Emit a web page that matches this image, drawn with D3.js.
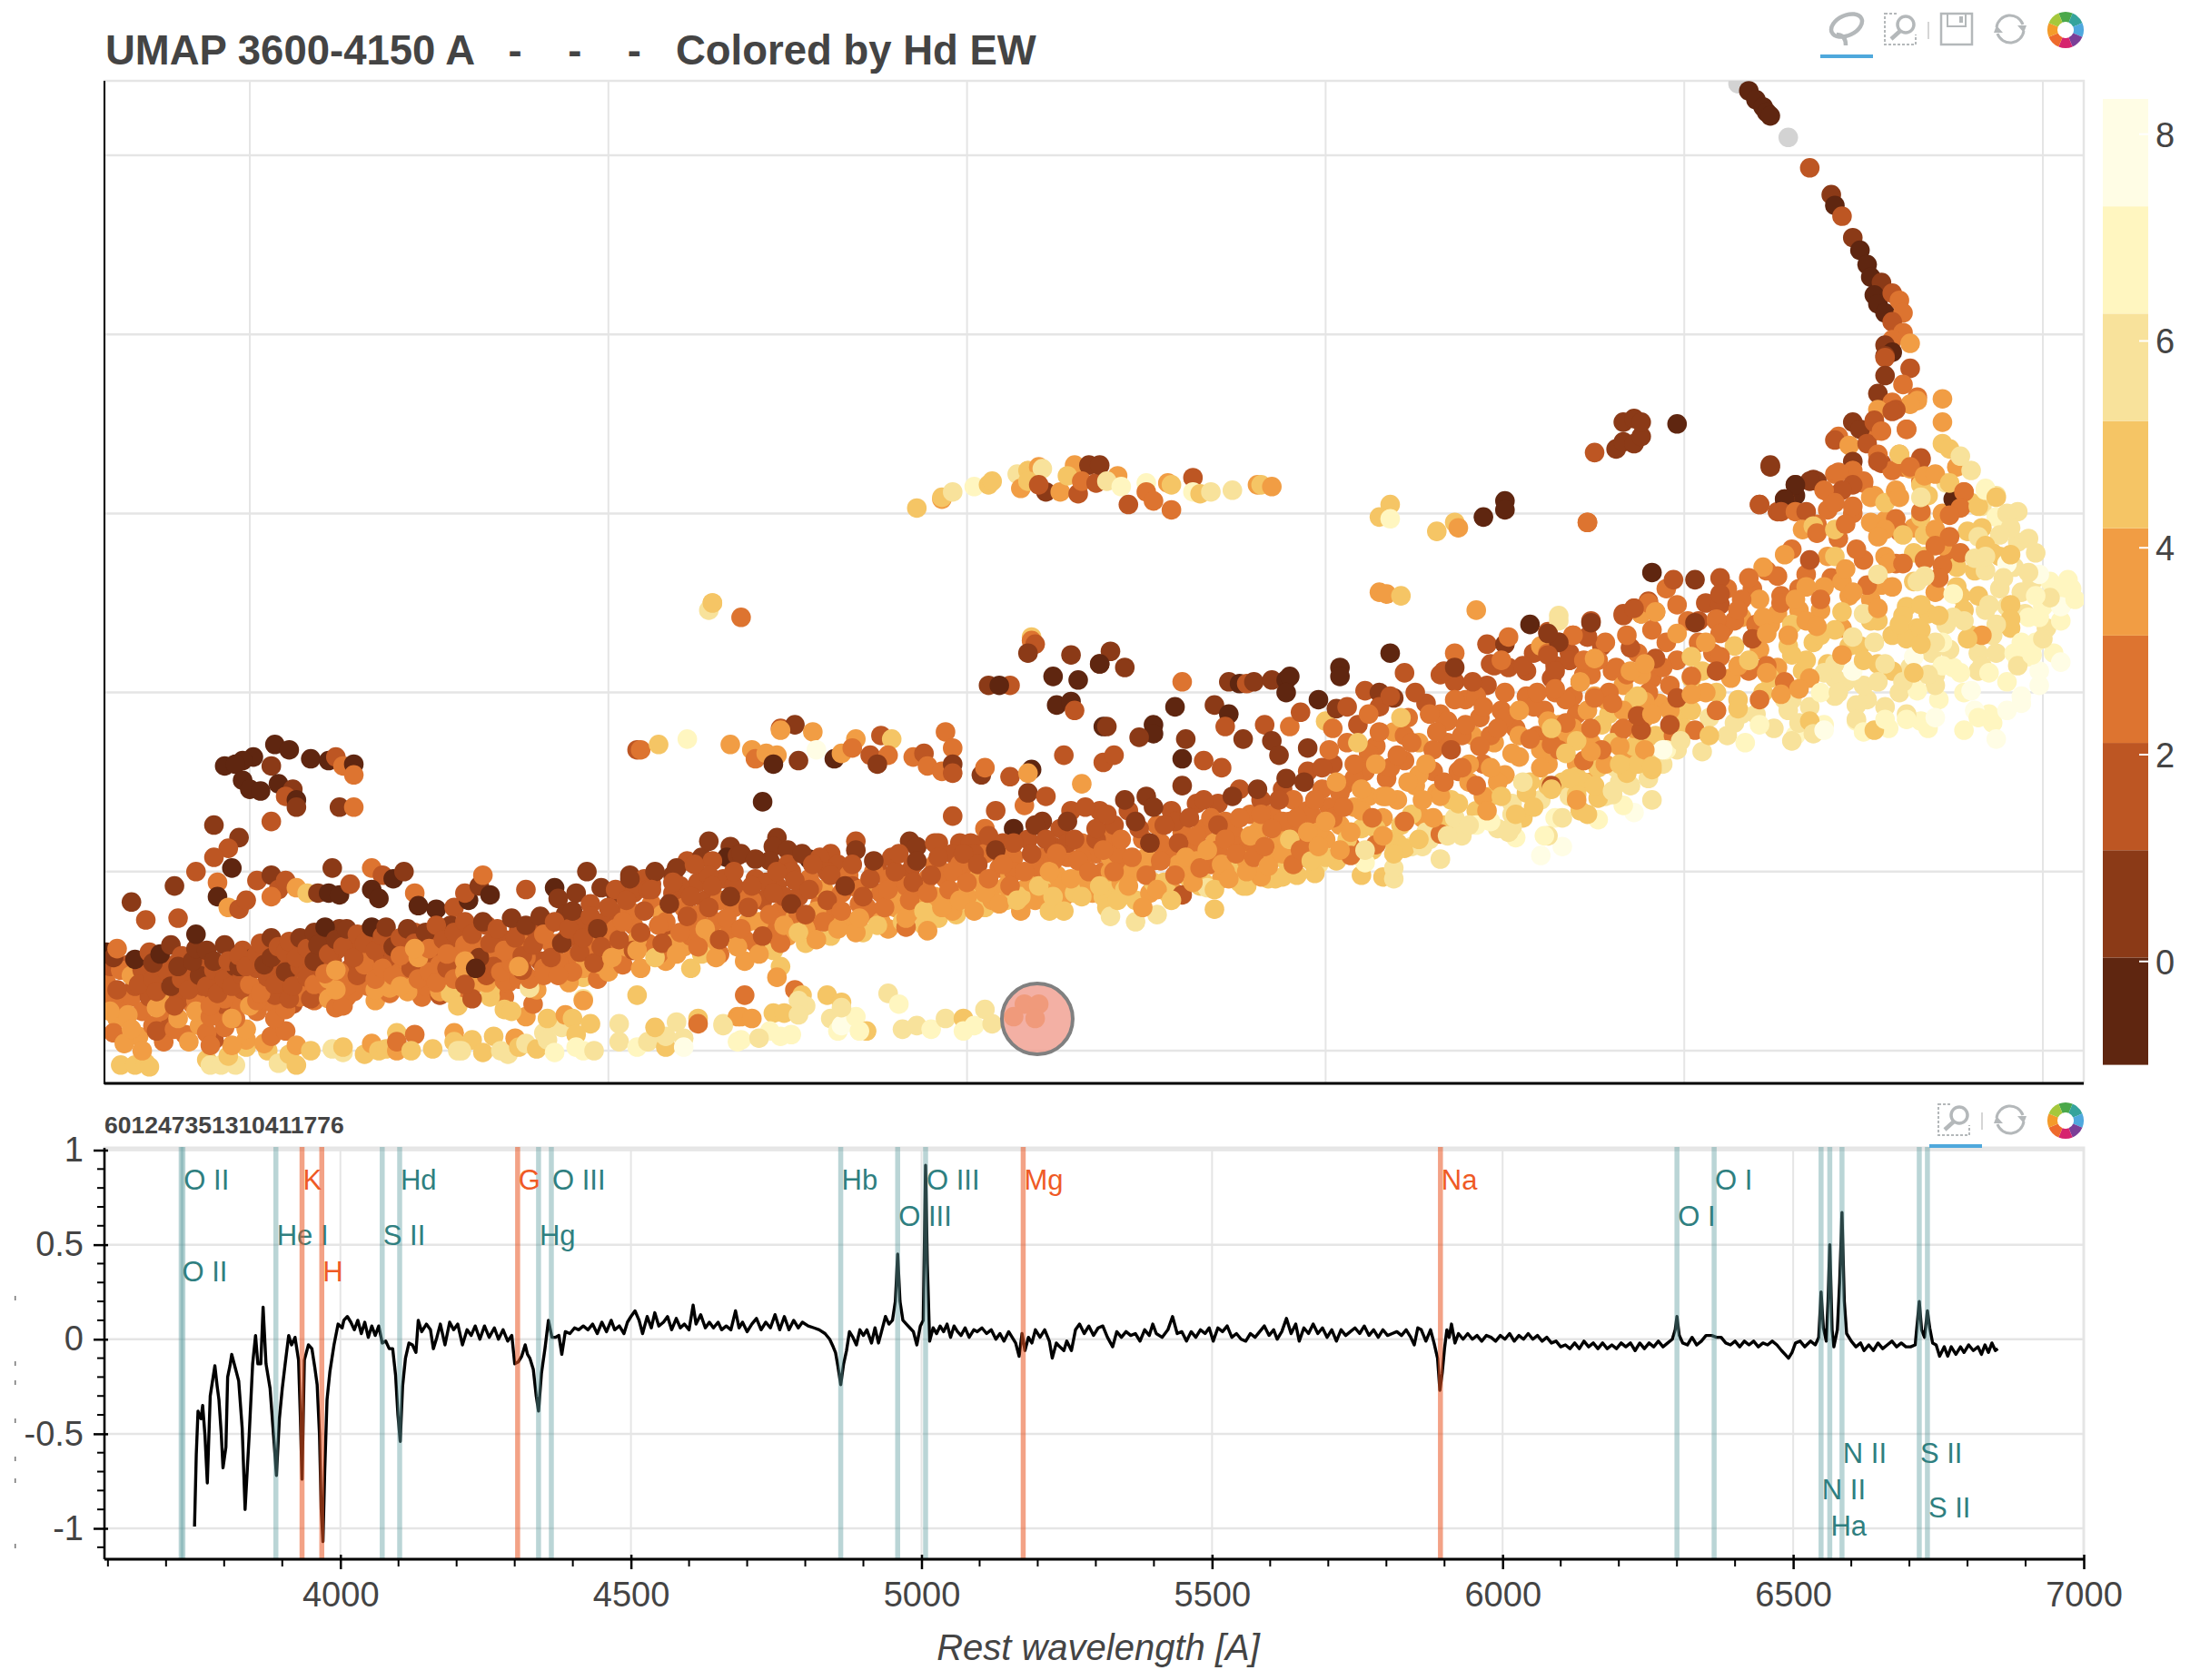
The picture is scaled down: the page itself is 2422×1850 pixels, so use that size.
<!DOCTYPE html>
<html>
<head>
<meta charset="utf-8">
<script src="https://cdn.jsdelivr.net/npm/d3@7"></script>
<style>
  html, body { margin: 0; background: #fff; }
  text { font-family: "Liberation Sans", Arial, sans-serif; white-space: pre; }
</style>
</head>
<body>
<svg id="chart" width="2422" height="1850"></svg>
<script>
// EW colour bins, darkest first (one bin per integer EW value)
const ewColors = ['#5f2610', '#8b3a17', '#bd5623', '#dd7430', '#f19d44', '#f5c565', '#f8e29b', '#fff6c0', '#fffde5'];
const ewTicks = [0, 2, 4, 6, 8];

// UMAP points, flat triples x, y, ew. Units: 100 = one grid cell
const missingEw = [415,540, 429,510];
const arcTop = [418,536,0,420,531,0,422,527,0,423,524,0,424,522,0,435,493,2,441,478,1,442,472,0,444,466,2,447,454,1,449,447,0,451,439,0,452,432,0,455,429,1,453,422,0,454,417,0,456,412,0,458,423,2,460,419,3,461,412,3,458,407,2,461,401,3,458,397,3,463,395,4,456,394,1,458,390,0,456,388,1,456,387,2,463,381,2,456,377,1,461,372,3,454,367,1];
const patchNorthEast = [375,334,2,381,336,1,383,340,1,386,339,1,388,343,1,383,351,1,386,353,1,388,351,1,398,350,0,424,326,1,373,295,3];
const patchUpperLeft = [7,171,0,11,168,0,1,164,0,-2,162,0,-7,159,0,-4,160,0,6,159,1,17,163,0,22,162,0,24,164,2,26,159,3,29,160,0,29,154,3,-2,151,0,0,146,0,3,145,0,8,149,0,12,146,1,10,142,2,13,140,0,13,136,1,25,136,1,29,136,3,6,128,2,-10,126,1,-3,119,1,-6,113,2,-10,108,2,-5,102,0,-15,100,2,-9,94,3,-21,92,1,-33,83,1,-29,73,2,-20,74,2,-9,86,0,-6,80,4,-3,79,2,-1,84,2,2,95,2,6,98,1,8,90,2,10,95,2,6,86,3,13,91,4,16,88,5,19,88,1,22,88,0,25,87,0,23,102,1,34,102,3,37,98,2,40,96,0,43,100,1,28,93,2,34,90,0,36,85,0,46,88,3,47,81,0,52,79,0,57,80,2,61,84,0,60,88,2,64,92,1,67,87,0,65,98,3,94,100,1,85,91,0,77,90,2,91,88,1,86,85,1,98,91,1,106,98,1,102,88,1,107,90,1,112,93,2,118,98,1,122,106,2,126,108,1,128,117,1,134,114,1,133,108,0,136,109,1,147,119,1,146,114,1,150,112,1,156,107,0,162,110,2,169,117,2,184,117,1,192,116,2,198,116,2,203,115,2,143,139,0,196,131,2,208,134,2,205,124,3,213,124,0,216,137,3,217,144,1,222,142,2];
const patchMiddle = [108,168,2,109,168,3,114,171,5,122,174,7,134,171,4,140,168,4,141,163,3,144,166,4,147,165,4,146,160,0,153,162,1,148,180,2,152,182,1,148,179,4,157,178,4,158,168,8,163,163,0,165,166,4,169,174,4,168,169,3,173,165,2,176,176,2,179,174,5,178,165,3,175,160,1,185,164,3,188,166,2,194,178,3,196,169,3,189,159,3,193,156,3,196,160,1,196,155,2,204,154,1,205,158,3,212,153,2,218,157,0,217,155,4,227,165,2,232,149,4,238,161,2,129,250,5,128,246,6,137,242,3,218,231,5,218,229,3,219,227,2,217,222,1,229,221,1,237,216,1,224,209,0,231,207,0,206,204,1,212,204,2,209,204,0,225,193,0,229,195,0,230,190,2,238,181,0,240,223,1,244,214,1,237,216,0,260,206,3,273,206,1,276,205,0,278,205,2,280,206,1,285,207,1,289,207,0,290,209,0,289,200,0,298,196,0,304,214,0,304,209,0,318,222,0,258,192,0,269,193,1,273,188,0,239,181,1,252,182,0,252,177,0,248,175,1,261,174,1,241,165,2,260,163,0,266,162,2,271,158,2,272,181,2,277,174,1,283,182,2,285,173,1,290,181,3,293,189,2,287,165,1,295,169,1,300,184,5,303,191,1,311,201,2,315,200,1,319,197,1];
const arcUpper = [186,303,5,193,308,4,193,309,5,196,312,6,202,315,7,206,316,5,207,318,5,214,322,6,217,324,5,220,326,4,221,325,6,215,314,4,217,318,5,222,312,1,220,316,2,226,312,4,231,311,2,230,327,4,234,327,1,228,321,5,232,318,3,236,317,2,237,327,1,242,321,4,239,318,6,243,315,7,250,317,7,250,312,3,252,307,3,245,305,2,257,302,3,256,317,4,257,316,5,263,320,2,263,312,7,265,311,5,268,312,6,274,313,6,281,316,4,282,316,5,285,315,4,318,305,5,315,298,5,318,297,7,331,290,5,336,295,5,337,292,4,344,298,0,350,307,0,350,302,0,373,295,3,129,250,5,315,256,4,317,255,4,321,254,5,342,246,4];
const stripLower = [-36,-8,5,-32,-8,5,-29,-7,5,-28,-9,5,-12,-5,5,-11,-8,6,-8,-8,6,-4,-8,6,-6,-3,5,-1,2,5,-1,6,4,-5,3,4,5,0,5,4,4,4,6,8,3,10,11,3,8,-7,6,11,-2,5,13,-8,5,13,3,4,17,0,5,23,1,6,26,-1,6,26,2,5,32,-2,5,34,4,4,36,0,5,38,1,5,41,10,5,41,0,4,46,9,3,41,5,3,45,0,5,51,1,5,57,10,4,57,5,5,62,6,5,58,0,6,59,0,6,65,-1,5,68,8,5,70,0,6,72,-2,6,74,7,4,75,2,5,77,4,6,80,1,5,82,10,6,83,6,6,85,-1,7,87,13,6,83,18,5,88,20,4,90,18,5,95,15,5,91,9,5,91,2,7,93,0,7,96,0,6,103,5,6,103,15,6,108,2,7,111,5,6,113,7,6,116,2,5,116,8,6,113,13,5,119,16,6,121,7,6,121,2,8,125,18,5,125,15,3,132,15,6,136,5,7,136,19,4,108,31,5,93,29,6,93,28,4,93,41,5,77,19,4,79,26,3,71,30,3,71,23,5,73,22,5,138,31,3,148,47,5,147,41,4,152,34,3,154,31,5,161,31,5,165,27,5,178,32,6,181,26,7,155,25,6,153,28,6,146,21,5,149,21,5,137,19,4,140,18,4,132,14,6,145,11,7,137,6,7,142,7,6,148,8,7,151,9,7,153,20,6,162,18,6,164,11,7,165,14,8,169,19,7,165,24,6,172,11,5,170,11,7,182,12,6,186,14,6,190,12,7,194,18,6,199,18,5,199,11,7,202,14,7,205,23,6,207,15,6,216,26,4,220,26,4,213,19,4,219,18,4];
const westFill = [-40,28,2,-37,18,4,-36,26,3,-34,48,2,-33,30,3,-31,8,4,-30,22,3,-29,50,1,-28,30,2,-27,14,3,-25,44,2,-24,5,3,-23,28,4,-22,16,2,-21,48,2,-19,30,2,-18,9,3,-17,42,1,-16,26,3,-14,14,4,-13,50,2,-12,31,2,-10,6,2,-9,22,3,-8,44,1,-7,13,3,-6,33,2,-4,26,3,-3,41,2,-2,56,2,-1,12,4,0,31,2,1,52,1,2,22,3,4,36,2,5,58,2,6,27,3,8,44,2,9,33,4,10,50,2,12,26,2,13,41,3,14,57,2,15,32,4,17,48,2,18,28,3,19,42,2,20,62,1,21,34,3,23,50,2,24,39,2,25,68,1,27,30,3,28,46,2,29,58,2,31,37,4,32,54,3,33,66,1,35,28,4,36,45,3,38,56,1,39,32,3,41,48,3,43,60,2,44,38,4,46,66,2,48,30,3,49,50,3,51,62,2,53,40,4,54,54,3,56,70,1,58,33,3,59,48,3,61,62,2,62,40,3,64,58,3,66,70,2,67,30,5,69,50,3,70,62,2,72,38,3,74,54,3,75,68,2,77,42,3,78,62,3,80,34,4,81,50,2,83,70,2,84,44,4,86,60,3,88,76,1,89,38,4,90,52,3,91,64,2,93,46,4,94,70,2,95,82,2,97,40,3,98,62,3,99,72,2,-38,30,3,-34,20,4,-32,36,2,-28,40,2,-25,22,3,-22,44,2,-20,28,2,-18,36,2,-15,28,3,-13,36,2,-11,42,2,-8,26,2,-6,42,2,-4,18,3,-2,34,2,0,44,2,2,26,3,4,52,2,6,44,2,8,30,3,10,38,2,12,46,2,14,30,3,16,36,3,18,54,2,20,38,3,22,48,2,24,56,2,26,42,3,28,38,3,30,48,2,33,36,3,35,50,2,37,40,3,40,52,2,42,44,3,44,54,3,47,46,3,49,36,3,51,54,2,53,48,3,55,60,2,57,36,4,59,54,3,62,46,3,64,38,4,66,54,3,69,42,3,71,62,2,73,42,4,75,58,3,77,52,3,80,66,2,82,46,3,84,60,3,86,50,3,88,62,2,90,44,3,92,70,2,94,56,3,96,64,3,98,48,4,100,60,3];
const centerFill = [100,44,4,101,66,3,102,90,2,103,76,2,104,48,3,105,58,4,107,88,2,107,70,3,109,46,4,110,96,2,111,60,3,112,82,3,113,100,1,115,76,4,116,50,4,117,66,2,118,88,2,119,102,1,121,58,4,121,80,3,123,46,5,124,70,3,125,94,2,126,62,4,127,84,2,129,106,2,130,72,3,131,54,3,132,96,2,133,64,4,135,80,3,136,88,3,137,110,1,138,50,4,139,72,4,141,60,3,141,96,2,143,84,2,144,70,3,145,106,1,146,56,5,147,92,2,148,78,3,150,64,4,150,104,2,152,74,4,153,86,2,154,110,1,155,60,5,156,96,3,157,70,3,159,82,3,159,108,2,160,90,4,162,64,5,163,76,3,164,104,2,165,88,3,167,72,4,167,98,3,169,112,1,170,82,3,171,66,5,172,92,4,174,76,3,175,102,2,176,88,3,178,68,4,179,108,2,180,80,4,181,94,3,182,72,5,184,100,2,185,78,4,186,114,1,187,90,3,188,70,5,190,84,4,191,104,3,191,116,2,192,74,5,194,96,3,195,84,4,196,110,2,197,76,5,199,90,4,200,102,3,201,116,2,202,86,5,203,96,4,205,80,5,205,110,3,206,120,2,208,90,4,209,102,3,210,116,2,211,84,5,212,98,4,213,108,3,215,78,4,216,90,4,217,118,2,218,100,3,219,84,4,220,108,3,221,128,1,223,90,5,224,114,2,225,98,4,226,124,2,227,86,4,228,108,3,229,134,2,231,96,5,232,116,3,233,102,4,235,88,4,236,110,3,237,134,2,238,100,3,239,118,3,240,90,5,102,68,3,106,78,3,108,62,4,111,90,2,114,54,3,116,72,3,118,60,4,120,92,2,123,64,3,125,76,3,128,56,4,128,98,2,131,84,3,134,68,3,135,92,2,138,62,3,140,84,3,142,72,4,144,94,2,147,64,3,149,86,2,151,100,2,153,76,3,155,68,4,157,92,3,158,78,4,161,100,2,163,84,3,165,70,4,168,92,2,170,90,3,172,80,3,174,100,3,176,72,4,178,96,3,180,86,4,183,92,3,185,104,2,187,80,4,189,96,3,191,86,4,193,100,3,196,78,4,198,104,3,200,86,4,202,110,2,204,94,4,207,84,4,209,110,3,211,92,4,213,100,3,215,86,5,218,94,4,220,102,3,222,88,4,224,106,3,226,94,4,228,116,2,230,88,5,232,108,3,234,94,4,236,118,2,238,86,5];
const eastFill = [240,108,4,241,126,2,243,94,4,244,106,3,245,134,2,247,84,5,248,100,4,249,118,3,250,142,1,251,88,4,252,106,3,253,126,3,255,94,5,256,110,3,257,134,2,258,88,4,259,104,4,260,122,3,262,96,5,263,112,3,264,138,2,265,92,5,266,124,3,268,104,3,269,116,4,270,138,2,271,96,4,272,128,3,274,104,5,275,120,3,276,146,2,277,92,5,278,112,3,279,132,3,280,98,4,281,122,4,282,140,2,284,108,4,285,132,3,286,96,5,287,118,4,288,146,2,289,106,5,290,128,3,291,140,3,292,98,5,293,120,4,295,134,3,295,156,2,296,112,3,297,126,4,298,104,6,299,146,3,300,118,4,301,136,3,302,160,2,303,106,5,304,126,4,305,148,3,306,172,3,307,114,3,308,136,4,309,182,2,310,124,5,311,156,3,312,142,4,313,112,5,314,170,3,315,192,2,316,130,4,317,152,3,318,118,5,319,178,4,320,140,4,321,126,5,322,162,3,323,186,3,324,114,6,325,148,4,326,172,4,327,130,4,328,194,2,329,118,6,330,156,3,331,144,4,332,188,3,333,126,5,334,172,3,335,140,5,336,206,2,337,156,3,338,122,6,339,196,3,340,150,4,341,176,4,342,134,5,343,186,3,344,160,3,345,204,2,346,142,5,347,172,4,348,124,6,349,190,3,350,154,4,351,214,2,352,138,6,353,180,3,354,164,4,355,130,5,356,198,3,357,150,5,358,222,2,359,176,3,360,140,6,361,190,3,362,160,4,363,208,2,364,130,7,365,182,4,366,150,5,367,172,3,368,222,2,369,198,3,370,160,4,371,134,5,372,210,3,373,178,5,374,150,4,375,198,4,376,168,4,377,226,2,378,142,6,379,188,5,380,212,3,381,158,6,382,178,3,383,204,4,384,166,4,385,148,6,386,196,5,387,222,3,388,170,5,389,186,4,390,152,6,391,208,3,392,176,5,393,194,4,394,160,6,395,228,3,396,204,3,397,176,3,398,218,3,399,188,5,240,100,4,242,110,3,244,90,5,246,100,4,248,124,2,250,108,4,252,94,5,254,116,3,256,88,5,258,128,2,260,100,4,262,114,3,264,106,4,266,94,5,268,130,3,270,112,3,272,100,4,274,124,3,276,94,5,278,106,4,280,116,3,282,124,4,284,96,5,286,110,4,288,128,3,290,100,5,292,120,3,294,108,4,296,132,3,298,122,4,300,108,5,302,130,3,304,144,3,306,118,5,308,152,3,310,134,4,312,166,3,314,124,5,316,142,4,318,158,3,320,116,5,322,176,3,324,132,5,326,154,4,328,122,6,330,168,3,332,142,4,334,184,3,336,130,6,338,176,3,340,160,4,342,198,3,344,142,4,346,176,3,348,150,4,350,186,3,352,132,6,354,176,4,356,144,5,358,192,3,360,168,4,362,148,5,364,200,3,366,176,4,368,142,6,370,188,3,372,150,5,374,210,3,376,158,5,378,196,4,380,172,5,382,150,6,384,210,3,386,170,5,388,186,4,390,200,3,392,160,6,394,214,3,396,190,4,398,168,6];
const fanFill = [400,180,5,401,240,3,402,190,5,403,200,4,404,228,3,405,212,5,406,250,2,407,186,6,408,222,3,409,200,5,411,236,3,412,176,6,412,258,3,413,208,4,414,226,5,415,196,5,416,242,4,417,172,7,418,212,3,419,258,3,420,188,6,421,224,4,422,200,5,423,268,3,424,238,4,425,180,6,426,214,4,427,254,3,428,196,6,429,226,5,430,280,3,431,176,7,432,246,4,433,212,5,434,266,3,435,192,6,436,228,5,437,294,3,438,246,4,439,182,7,440,216,5,441,264,3,442,198,6,443,286,3,444,236,4,445,206,6,446,254,4,447,300,3,448,184,7,449,226,5,450,274,3,451,196,6,452,240,5,453,310,4,454,216,5,455,260,4,456,296,4,457,180,7,458,232,5,459,272,3,460,200,6,461,326,3,462,248,5,463,214,6,464,292,4,465,236,5,466,184,7,467,276,5,468,310,5,469,222,6,470,256,4,471,196,7,472,300,4,473,238,6,474,278,3,475,214,7,476,326,4,477,254,5,478,200,7,479,290,5,480,232,5,481,268,5,482,212,6,483,304,6,484,246,6,485,188,7,486,278,5,487,222,6,488,258,6,489,296,6,490,206,7,491,236,5,492,270,6,493,284,6,494,194,8,495,244,6,496,220,7,497,262,6,498,278,6,499,204,8,500,248,7,501,236,6,502,262,7,503,222,7,504,256,7,505,240,7,507,252,7,508,258,7,402,208,5,406,200,4,410,220,3,414,240,3,416,188,6,420,238,3,424,208,5,426,244,4,430,196,6,432,258,3,434,218,5,438,232,5,440,276,4,442,208,6,444,262,4,446,226,5,448,280,3,450,204,6,452,252,4,454,240,5,456,276,4,458,212,5,460,290,3,462,230,5,464,262,5,466,318,3,468,244,5,470,210,6,472,282,4,474,224,6,476,270,5,478,246,5,480,306,5,482,222,6,484,268,6,486,232,6,488,276,5,490,248,6,492,222,7,494,256,6,496,242,7,498,228,7];
const bandWest = [-39,22,4,-38,10,3,-35,4,4,-33,12,4,-30,0,4,-26,11,2,-26,24,4,-21,12,3,-20,18,4,-17,5,4,-15,22,4,-21,25,2,-12,10,3,-11,3,3,-11,19,3,-11,25,3,-7,29,3,-5,18,4,0,25,4,2,28,3,7,18,3,10,23,3,7,31,2,11,29,2,17,29,2,22,29,4,24,24,3,26,25,3,29,33,3,35,34,4,39,35,4,44,33,4,53,31,2,53,33,4,56,32,5,58,25,5,62,29,2,67,34,5,66,38,4,71,39,3,75,40,3,78,35,6,78,40,3,82,42,3,86,42,3,-40,38,3,-37,34,2,-39,47,2,-36,45,3,-33,42,4,-30,45,2,-31,37,2,-27,40,2,-26,33,2,-23,44,2,-22,36,1,-19,40,2,-17,34,2,-16,46,2,-14,42,1,-12,36,2,-10,45,2,-9,32,2,-7,40,2,-5,36,2,-4,47,1,-2,42,2,0,37,3,2,46,2,3,32,3,5,41,2,7,37,2,8,48,2,10,44,1,12,36,2,14,47,2,16,41,2,18,37,3,20,46,2,22,40,4,25,44,3,27,36,3,24,34,4,30,42,2,32,48,3,35,40,3,37,46,3,40,42,3,42,36,4,45,46,2,47,40,3,50,44,3,52,38,3,55,46,2,57,40,3,60,44,4,60,37,2,63,49,2,66,42,2,68,47,2,70,44,3,73,49,3,76,45,2,-40,55,0,-38,52,1,-37,57,3,-32,51,0,-28,55,2,-27,49,1,-25,54,0,-22,59,1,-19,53,2,-20,47,1,-16,50,1,-15,57,1,-15,65,0,-12,56,1,-10,50,1,-7,59,1,-6,50,2,-3,47,1,-3,53,2,-1,47,2,2,54,2,3,60,2,4,48,1,6,52,1,6,63,1,8,58,2,10,55,2,11,61,2,13,52,2,14,63,1,16,57,2,18,66,1,18,50,1,19,59,1,21,69,0,22,54,2,24,62,1,26,58,2,27,68,1,29,52,2,30,65,2,32,60,2,34,69,0,35,56,2,37,64,2,38,69,1,40,58,1,42,63,2,42,53,3,44,68,1,46,60,2,47,52,4,49,66,1,50,57,3,52,70,2,54,62,2,55,54,3,57,66,2,60,72,2,60,59,3,62,65,2,64,52,1,65,72,1,67,60,2,69,68,2,71,56,3,73,74,1,74,63,2,76,53,2,77,70,1,79,59,2,81,75,1,82,65,3,84,52,2,85,72,2,87,60,1,89,68,2,90,78,1,92,55,2,93,63,2,95,75,2,96,49,2,97,68,1,98,58,2,100,80,2,46,57,4,60,50,4,63,46,0,75,47,4,107,56,4,107,56,2,126,54,5,21,43,3,24,45,4];
const bandCenter = [101,52,4,103,62,2,104,72,3,105,84,2,106,96,1,108,56,4,109,66,2,110,78,2,112,90,2,113,52,5,114,70,3,115,60,2,117,82,1,118,94,2,119,54,4,120,66,3,122,75,2,123,86,2,124,104,2,125,58,3,127,68,4,128,80,2,129,92,2,130,52,4,131,62,2,133,74,3,134,86,1,135,100,2,136,58,4,137,68,3,139,80,2,140,92,2,141,107,1,142,54,4,143,64,2,145,76,3,146,88,2,147,100,2,148,60,3,149,70,4,151,82,1,152,95,2,153,66,5,155,76,2,156,90,2,157,104,2,158,62,4,160,72,3,161,84,2,162,98,2,164,68,4,165,78,3,166,92,1,168,104,2,169,66,4,170,74,4,171,86,2,173,96,2,174,106,1,175,70,5,177,80,3,178,90,3,180,100,2,181,110,2,183,69,3,183,74,4,184,84,3,185,94,2,186,106,1,189,67,4,188,78,5,189,88,3,190,98,2,192,108,2,193,80,4,195,90,3,196,100,3,198,84,4,199,110,2,200,94,3,202,78,4,203,104,2,205,88,4,206,96,3,208,112,1,209,82,4,210,104,3,212,92,3,213,116,2,214,84,5,216,100,3,218,110,2,219,126,1,220,92,5,222,118,2,223,100,4,223,78,5,224,86,5,225,110,3,227,78,5,228,128,1,229,96,4,230,118,2,231,106,3,232,86,5,233,136,2,234,100,3,236,124,2,237,92,5,238,112,3,239,80,5,239,132,2,240,75,6,247,72,6,253,76,6,269,79,5,260,87,2,267,91,6,278,92,5,282,97,4,288,97,5,297,99,5,310,98,5,316,97,5,319,96,6,319,102,6,311,105,7,307,109,3,314,115,3,322,113,5,327,114,6,332,107,6,332,121,3,338,120,6,360,109,8,366,114,8,362,120,6,353,119,7,352,125,6,346,128,7,342,126,7,376,129,7,373,132,5,386,133,8,383,137,7,391,140,6,380,143,6,376,141,5,370,153,5,370,143,5,363,148,2,391,157,5,383,159,5,395,168,7,405,167,6];
const bandEast = [241,100,3,242,84,5,243,118,3,244,140,1,245,92,4,246,108,3,247,128,1,249,80,4,250,98,3,251,116,1,252,136,1,253,90,4,254,106,3,255,126,2,257,84,5,258,98,3,259,116,2,260,148,1,261,108,4,262,130,2,263,94,4,264,120,3,265,102,3,266,140,2,267,112,4,269,90,5,270,126,2,271,104,4,272,118,3,273,96,4,274,142,1,275,110,3,276,130,3,278,100,4,279,120,4,280,108,3,281,146,1,282,132,3,283,114,3,284,103,4,285,124,3,287,140,2,288,110,4,289,152,1,290,118,5,291,104,3,292,130,3,293,112,3,294,150,1,295,122,4,296,106,5,297,140,3,298,114,4,299,158,2,300,128,4,301,168,3,302,180,3,303,150,4,304,112,4,305,136,3,306,192,2,307,122,4,308,160,3,309,172,5,310,146,4,311,112,6,312,188,3,313,130,3,314,160,4,315,178,3,316,120,4,317,142,4,318,198,2,319,110,5,320,165,3,321,186,5,322,128,3,323,150,4,324,172,3,325,200,2,326,118,5,327,140,4,328,160,4,329,188,3,330,130,4,331,178,3,332,210,2,333,150,3,334,120,6,335,168,2,336,196,3,337,138,5,338,158,3,339,182,3,340,126,6,341,206,2,342,148,3,343,170,3,344,192,3,345,134,4,346,158,4,347,215,2,348,180,3,349,142,5,350,200,3,351,122,6,352,166,4,353,132,5,354,190,4,355,150,6,356,212,2,357,174,3,358,136,5,359,200,3,360,158,4,361,120,7,362,184,4,363,146,5,364,215,2,365,168,3,366,130,6,367,196,3,368,152,5,369,180,4,370,140,4,371,206,2,372,162,3,373,190,4,374,172,4,375,148,5,376,218,3,377,182,5,378,160,4,379,200,3,380,145,6,381,214,3,382,170,4,383,190,4,384,155,5,385,225,2,386,180,4,387,160,5,388,210,4,389,195,4,322,211,2,333,212,2,336,222,3,336,214,1,345,227,2,350,227,1,351,231,3,346,216,2,349,218,3,355,215,2,357,238,0,362,234,2,365,240,6,369,232,3,374,240,2,373,231,2,365,228,2,360,226,4,362,222,3,368,218,2,383,244,2,388,244,3,392,245,3,386,247,2,390,251,2,398,249,3,391,267,0,395,258,3,397,263,2,403,263,1,404,240,2,409,240,3,410,249,2];
const fan = [465,365,3,465,363,4,472,364,4,463,361,4,458,362,3,459,358,2,454,358,4,453,352,2,447,351,1,472,351,4,462,347,3,453,346,3,449,347,1,443,343,3,442,341,2,446,338,4,451,339,2,472,339,5,474,336,5,460,333,4,477,332,6,447,329,1,455,328,2,466,331,2,463,325,4,424,327,1,442,322,3,447,324,3,480,324,6,436,319,1,431,316,1,431,310,0,421,305,2,426,301,2,428,308,1,441,310,3,450,317,3,459,312,4,466,316,5,473,317,6,484,314,7,487,310,6,478,312,3,475,308,0,458,357,2,453,351,2,455,346,3,462,347,3,454,333,3,458,324,3,454,329,2,460,333,5,466,330,2,463,326,3,443,323,3,450,318,3,447,316,2,444,313,2,437,318,1,435,318,1,431,316,0,428,308,0,439,313,3,421,305,2,427,301,2,431,301,3,434,301,2,440,302,3,447,304,3,442,306,3,452,309,4,456,306,5,459,313,4,460,309,4,466,298,5,466,301,3,466,309,6,467,321,4,470,322,4,474,317,5,478,312,3,477,303,3,474,299,3,482,304,5,484,313,7,487,309,5,487,298,7,493,301,6,490,300,6,483,292,5,491,292,6,488,288,6,496,286,6,482,287,6,484,282,5,433,291,4,436,293,5,437,289,3,442,291,5,445,294,3,452,295,4,459,297,3,456,291,4,454,287,4,461,288,5,467,288,5,470,291,4,474,287,3,470,282,3,464,278,5,457,272,4,461,272,3,467,274,3,472,271,3,477,278,3,476,259,5,471,264,3,467,265,6,465,262,6,481,275,6,484,276,6,490,272,8,491,277,5,489,264,6,475,255,7,482,254,5,485,249,6,491,249,5,499,266,8,496,267,6,507,263,7,505,248,8,509,252,7,502,253,6,498,254,7,499,242,7,500,230,6,494,228,7,499,212,8,493,218,7,493,215,6,505,217,8,497,221,7,491,241,5,487,238,6,483,232,4,479,230,5,472,228,7,470,228,6,464,220,8,475,242,6,478,240,6,471,243,5,466,249,5,461,243,5,460,238,5,466,235,5,466,227,5,483,215,6,485,211,7,477,211,7,472,215,7,470,204,6,480,201,8,465,201,7,468,210,6,442,276,5,435,274,2,445,269,4,451,260,3,454,266,6,458,259,4,447,256,4,439,259,4,434,259,4,426,265,3,428,277,4,422,270,4,418,264,3,410,264,2,410,255,2,421,252,4,427,250,3,431,252,4,438,252,3,444,245,5,450,244,6,454,247,4,416,252,3,415,246,3,422,242,4,409,241,3,430,238,5,442,235,5,447,231,6,453,228,6,434,240,4,437,237,4,410,233,3,419,230,2,423,233,4,429,232,4,442,216,6,444,221,4,447,212,8,439,211,6,456,216,6,450,218,5,461,206,6,464,211,5,454,206,6,430,221,5,423,215,3,423,211,4,428,206,3,435,208,4,438,200,7,432,202,4,402,220,5,409,212,2,402,209,3,415,215,4,418,218,5,406,228,4,403,239,1,398,233,4,392,219,2,391,235,3,384,232,3,378,228,3,373,231,2,369,232,3,374,239,1,365,228,1,362,233,1,365,243,6,383,243,2,388,244,4,390,250,3,392,245,4,386,247,2,368,218,2,362,221,2,364,212,2,372,218,3,375,219,4,385,212,4,389,216,4,371,206,4,364,202,3,375,197,3,383,180,3,388,179,2,387,187,2,387,198,5,380,194,3,398,197,2,402,199,4,396,182,2,391,188,4,409,190,3,403,179,3,407,176,5,399,173,6,394,168,8,389,168,4,377,168,3,374,167,4,370,173,5,363,171,3,367,166,5,382,160,5,391,159,5,367,183,3,374,180,3,363,180,5,414,183,6,421,182,7,415,191,5,421,196,3,429,190,6,432,183,6,435,184,5,430,173,6,436,177,6,439,179,8,427,199,4,443,200,6,448,193,6,456,192,6,462,188,6,448,185,6,450,178,7,453,179,5,456,185,7,462,185,7,468,180,7,470,186,8,478,179,7,481,190,8,486,183,7,487,174,8,490,190,8,494,198,8,482,186,7];

// spectrum, flat pairs wavelength, flux
const spectrumPairs = [3749,-.99,3752,-.61,3755,-.38,3758,-.41,3760,-.42,3763,-.35,3767,-.51,3771,-.76,3776,-.30,3784,-.14,3788,-.25,3791,-.32,3795,-.5,3798,-.68,3803,-.57,3806,-.2,3810,-.14,3813,-.08,3819,-.15,3825,-.22,3831,-.47,3836,-.9,3843,-.51,3849,-.13,3854,.02,3858,-.13,3863,-.13,3867,.17,3872,-.13,3879,-.26,3885,-.51,3890,-.72,3895,-.42,3900,-.26,3905,-.13,3911,.02,3916,-.03,3922,.01,3928,-.11,3931,-.4,3934,-.74,3938,-.11,3945,-.03,3951,-.05,3956,-.15,3960,-.24,3964,-.5,3967,-.9,3970,-1.07,3973,-.7,3977,-.32,3982,-.17,3989,-.03,3996,.08,4003,.06,4006,.10,4012,.12,4018,.09,4024,.05,4030,.1,4036,.03,4042,.09,4048,.01,4054,.07,4060,.02,4066,.07,4072,-.02,4078,-.01,4084,-.05,4090,-.05,4095,-.19,4099,-.4,4103,-.54,4107,-.25,4112,-.1,4118,-.02,4124,-.03,4130,-.07,4134,.1,4140,.04,4148,.08,4155,.05,4160,-.05,4166,.01,4172,.08,4180,-.03,4188,.09,4195,.05,4202,.08,4210,-.03,4218,.05,4225,.02,4232,.07,4240,0,4248,.07,4256,.01,4265,.06,4272,0,4280,.05,4288,-.01,4295,.02,4300,-.13,4306,-.12,4312,-.09,4318,-.03,4322,-.08,4326,-.1,4332,-.16,4337,-.3,4341,-.38,4346,-.18,4352,-.05,4358,.1,4364,.01,4370,.01,4376,.02,4381,-.08,4387,.04,4395,.03,4403,.06,4410,.05,4418,.07,4426,.05,4434,.08,4442,.03,4450,.09,4458,.04,4466,.1,4472,.05,4480,.07,4488,.03,4494,.09,4500,.12,4507,.15,4514,.1,4520,.03,4528,.12,4535,.06,4541,.14,4548,.07,4556,.09,4563,.12,4570,.05,4578,.11,4585,.06,4592,.08,4600,.05,4607,.18,4612,.08,4620,.13,4628,.06,4635,.09,4642,.06,4650,.09,4656,.05,4664,.07,4672,.05,4680,.15,4686,.06,4692,.09,4700,.04,4708,.08,4716,.11,4724,.05,4732,.09,4740,.06,4748,.13,4756,.05,4764,.12,4772,.05,4780,.1,4788,.06,4795,.09,4805,.07,4815,.06,4824,.05,4834,.03,4842,0,4848,-.04,4852,-.07,4856,-.14,4861,-.24,4866,-.13,4871,-.06,4876,.04,4882,.01,4888,-.03,4894,.05,4900,.02,4906,.05,4914,-.02,4920,.06,4926,-.02,4932,.05,4938,.12,4944,.08,4950,.1,4955,.2,4959,.45,4963,.2,4968,.1,4974,.08,4980,.06,4986,.04,4992,-.03,4998,.07,5003,.1,5007,.92,5010,.4,5014,-.01,5020,.06,5026,.03,5032,.07,5038,.04,5044,.08,5050,.01,5056,.07,5062,.04,5068,.02,5075,.06,5082,.01,5090,.05,5096,.04,5104,.06,5112,.03,5120,.05,5128,0,5135,.03,5142,-.01,5150,.04,5156,.01,5162,-.02,5168,-.09,5173,.03,5178,-.06,5184,.01,5190,-.02,5196,.05,5204,.01,5212,.05,5220,-.01,5225,-.1,5232,-.02,5238,-.04,5245,-.06,5250,-.01,5258,-.06,5265,.05,5272,.08,5280,.03,5288,.07,5296,.02,5304,.06,5312,.07,5320,.01,5329,-.04,5336,.04,5344,.01,5352,.04,5360,.02,5368,.03,5376,-.01,5384,.05,5392,.02,5398,.08,5404,.03,5414,.01,5424,.05,5432,.12,5440,.03,5448,.04,5456,-.01,5464,.04,5472,.01,5480,.05,5488,.03,5495,.06,5502,-.01,5510,.06,5518,.04,5526,.07,5534,.01,5542,.03,5550,0,5558,-.01,5566,.03,5574,.01,5582,.04,5590,.07,5598,.02,5606,.05,5612,0,5620,.04,5628,.11,5636,.03,5644,.08,5650,-.01,5658,.06,5666,.03,5674,.08,5682,.03,5690,.06,5698,.01,5706,.05,5714,-.01,5722,.05,5730,.02,5738,.04,5746,.06,5754,.03,5762,.07,5770,.02,5778,.05,5786,.01,5794,.05,5802,.02,5810,.03,5818,.04,5826,.02,5834,.05,5842,.01,5848,-.03,5854,.06,5860,.05,5868,-.01,5876,.05,5882,-.02,5888,-.1,5892,-.27,5896,-.18,5900,-.05,5904,.05,5908,.01,5912,.08,5918,-.02,5924,.03,5932,0,5940,.03,5948,0,5956,.02,5964,-.01,5972,.02,5980,.01,5988,-.01,5996,.02,6004,0,6012,.03,6020,-.01,6028,.02,6036,0,6044,.03,6052,0,6060,.02,6068,-.01,6076,.01,6084,-.02,6092,-.01,6100,-.04,6108,-.03,6116,-.05,6124,-.02,6132,-.05,6140,-.01,6148,-.04,6156,-.02,6164,-.05,6172,-.02,6180,-.05,6188,-.03,6196,-.05,6204,-.02,6212,-.04,6220,-.02,6228,-.06,6236,-.02,6244,-.05,6252,-.02,6260,-.04,6268,-.01,6276,-.04,6284,-.02,6292,0,6297,.05,6300,.12,6304,.02,6310,-.02,6318,-.03,6326,.01,6334,-.03,6342,-.01,6350,.02,6360,.02,6368,.01,6376,.01,6384,-.02,6392,-.03,6400,-.01,6408,-.04,6416,-.01,6424,-.03,6432,-.01,6440,-.04,6448,-.02,6456,-.03,6464,-.01,6472,-.03,6480,-.06,6486,-.08,6492,-.1,6498,-.07,6504,-.02,6512,-.01,6520,-.04,6530,-.01,6538,-.03,6544,.01,6548,.25,6552,.06,6557,-.01,6560,.2,6563,.5,6567,.05,6570,-.04,6576,.05,6580,.3,6584,.67,6588,.2,6592,.03,6600,-.01,6608,-.04,6616,-.02,6622,-.06,6630,-.03,6638,-.06,6646,-.02,6654,-.05,6662,-.03,6670,-.01,6678,-.04,6686,-.02,6694,-.04,6702,-.04,6710,-.03,6714,.1,6717,.2,6721,.05,6726,.01,6731,.15,6735,.06,6740,-.02,6746,-.03,6752,-.09,6760,-.04,6766,-.09,6772,-.04,6780,-.08,6788,-.04,6794,-.07,6802,-.03,6810,-.06,6818,-.04,6824,-.08,6830,-.03,6836,-.07,6842,-.02,6848,-.06,6852,-.05];

// spectral lines: name, wavelength, flux level of the label baseline
const emissionNames = ['O II','O II','He I','S II','Hd','Hg','O III','Hb','O III','O III','O I','O I','N II','Ha','N II','S II','S II'];
const emissionWaves = [3726,3729,3889,4072,4102,4341,4363,4861,4959,5007,6300,6364,6548,6563,6584,6717,6731];
const emissionLevels = [.307,.79,.5,.5,.79,.5,.79,.79,.597,.79,.597,.79,-.846,-1.04,-.654,-.654,-.94];
const absorptionNames = ['K','H','G','Mg','Na'];
const absorptionWaves = [3934,3968,4305,5175,5893];
const absorptionLevels = [.79,.307,.79,.79,.79];

const specXTicks = [4000, 4500, 5000, 5500, 6000, 6500, 7000];
const specYTicks = [-1, -0.5, 0, 0.5, 1];
const umapGrid = [0, 100, 200, 300, 400, 500];
const selectedPoint = [219.6, 17.7];

const textColor = '#444444';
const gridColor = '#e5e5e5';
const svg = d3.select('#chart');

const triples = (flat) => d3.range(0, flat.length, 3).map(i => ({ x: flat[i], y: flat[i + 1], ew: flat[i + 2] }));

// ---- top panel ----
const upper = { left: 115, right: 2294, top: 89, bottom: 1193 };
const umapX = d3.scaleLinear().domain([0, 500]).range([275, 2249]);
const umapY = d3.scaleLinear().domain([0, 500]).range([1157, 171]);
const ewColor = d3.scaleQuantize().domain([-1, 8.33]).range(ewColors);

svg.append('text').attr('x', 116).attr('y', 71).attr('fill', textColor)
  .style('font-size', '45.5px').style('font-weight', 'bold')
  .text('UMAP 3600-4150 A   -    -    -   Colored by Hd EW');

svg.append('defs').append('clipPath').attr('id', 'topClip').append('rect')
  .attr('x', upper.left).attr('y', upper.top).attr('width', upper.right - upper.left).attr('height', upper.bottom - upper.top);

const grid = svg.append('g');
grid.selectAll('.gy').data(umapGrid).join('line').attr('x1', upper.left).attr('x2', upper.right)
  .attr('y1', d => umapY(d)).attr('y2', d => umapY(d)).attr('stroke', gridColor).attr('stroke-width', 2.5);
grid.selectAll('.gx').data(umapGrid).join('line').attr('y1', upper.top).attr('y2', upper.bottom)
  .attr('x1', d => umapX(d)).attr('x2', d => umapX(d)).attr('stroke', gridColor).attr('stroke-width', 2);
grid.append('rect').attr('x', upper.left).attr('y', upper.top).attr('width', upper.right - upper.left).attr('height', upper.bottom - upper.top)
  .attr('fill', 'none').attr('stroke', gridColor).attr('stroke-width', 2.5);

const dots = svg.append('g').attr('clip-path', 'url(#topClip)');
const drawDots = (pts) => pts.forEach(d => {
  dots.append('circle').attr('cx', umapX(d.x)).attr('cy', umapY(d.y)).attr('r', 10.8)
    .attr('fill', d.ew === null ? '#d3d3d3' : ewColor(d.ew));
});
drawDots(d3.range(0, missingEw.length, 2).map(i => ({ x: missingEw[i], y: missingEw[i + 1], ew: null })));
[arcTop, patchNorthEast, patchUpperLeft, patchMiddle, arcUpper, stripLower, westFill, centerFill, eastFill, fanFill, bandWest, bandCenter, bandEast, fan]
  .forEach(group => drawDots(triples(group)));

// selected glyph
dots.append('circle').attr('cx', umapX(selectedPoint[0])).attr('cy', umapY(selectedPoint[1])).attr('r', 39)
  .attr('fill', '#f09a8a').attr('fill-opacity', 0.78).attr('stroke', '#808080').attr('stroke-width', 4);

svg.append('line').attr('x1', upper.left).attr('x2', upper.left).attr('y1', upper.top).attr('y2', upper.bottom + 1).attr('stroke', '#000').attr('stroke-width', 2);
svg.append('line').attr('x1', upper.left).attr('x2', upper.right).attr('y1', upper.bottom).attr('y2', upper.bottom).attr('stroke', '#000').attr('stroke-width', 3);

// colour bar
const barY = d3.scaleLinear().domain([-1, 8.34]).range([1172.6, 109]);
const barStep = 9.34 / ewColors.length;
svg.append('g').selectAll('rect').data(ewColors).join('rect')
  .attr('x', 2315).attr('width', 50)
  .attr('y', (d, i) => barY(-1 + barStep * (i + 1)))
  .attr('height', (d, i) => barY(-1 + barStep * i) - barY(-1 + barStep * (i + 1)))
  .attr('fill', d => d);
const barTicks = svg.append('g').selectAll('g').data(ewTicks).join('g').attr('transform', d => `translate(0,${barY(d)})`);
barTicks.append('line').attr('x1', 2355).attr('x2', 2365).attr('stroke', '#fff').attr('stroke-width', 2);
barTicks.append('text').attr('x', 2373).attr('y', 14).attr('fill', textColor).style('font-size', '38px').text(d => d);

// ---- bottom panel ----
const low = { left: 115, right: 2294, top: 1266, bottom: 1717 };
const specX = d3.scaleLinear().domain([3594, 7000]).range([low.left, low.right]);
const specY = d3.scaleLinear().domain([1, -1]).range([1266.5, 1683]);

svg.append('text').attr('x', 115).attr('y', 1248).attr('fill', textColor)
  .style('font-size', '26.5px').style('font-weight', 'bold').text('601247351310411776');

const lowGrid = svg.append('g');
lowGrid.selectAll('.gy').data(specYTicks).join('line').attr('x1', low.left).attr('x2', low.right)
  .attr('y1', d => specY(d)).attr('y2', d => specY(d)).attr('stroke', gridColor).attr('stroke-width', 2.5);
lowGrid.selectAll('.gx').data(specXTicks).join('line').attr('y1', low.top).attr('y2', low.bottom)
  .attr('x1', d => specX(d)).attr('x2', d => specX(d)).attr('stroke', gridColor).attr('stroke-width', 2);
lowGrid.append('rect').attr('x', low.left).attr('y', low.top - 2).attr('width', low.right - low.left).attr('height', low.bottom - low.top + 2)
  .attr('fill', 'none').attr('stroke', gridColor).attr('stroke-width', 3);

const spectrum = d3.range(0, spectrumPairs.length, 2).map(i => [spectrumPairs[i], spectrumPairs[i + 1]]);
svg.append('path').datum(spectrum).attr('fill', 'none').attr('stroke', '#000').attr('stroke-width', 3.4).attr('stroke-linejoin', 'round')
  .attr('d', d3.line().x(d => specX(d[0])).y(d => specY(d[1])));

const drawLines = (names, waves, levels, band, ink) => {
  svg.append('g').selectAll('line').data(waves).join('line')
    .attr('x1', d => specX(d)).attr('x2', d => specX(d)).attr('y1', low.top - 3).attr('y2', low.bottom - 1)
    .attr('stroke', band).attr('stroke-width', 5.5);
  svg.append('g').selectAll('text').data(names).join('text')
    .attr('x', (d, i) => specX(waves[i]) + 1).attr('y', (d, i) => specY(levels[i]))
    .attr('fill', ink).style('font-size', '31px').text(d => d);
};
drawLines(emissionNames, emissionWaves, emissionLevels, 'rgba(95,158,160,0.43)', '#2f7f80');
drawLines(absorptionNames, absorptionWaves, absorptionLevels, 'rgba(233,85,35,0.55)', '#ef5a25');

// axes
const xAxis = svg.append('g').attr('transform', `translate(0,${low.bottom})`)
  .call(d3.axisBottom(specX).tickValues(specXTicks).tickFormat(d => d).tickSize(11).tickPadding(14));
xAxis.selectAll('.tick line').attr('y1', -5).attr('stroke-width', 2.5);
xAxis.selectAll('.tick text').attr('fill', textColor).style('font-size', '38px');
xAxis.select('.domain').attr('stroke-width', 3).attr('d', `M${low.left},0H${low.right}`);
xAxis.selectAll('.minor').data(d3.range(3600, 7000, 100).filter(d => d % 500 !== 0)).join('line').attr('class', 'minor')
  .attr('x1', d => specX(d)).attr('x2', d => specX(d)).attr('y1', 0).attr('y2', 8).attr('stroke', '#000').attr('stroke-width', 2);

const yAxis = svg.append('g').attr('transform', `translate(${low.left},0)`)
  .call(d3.axisLeft(specY).tickValues(specYTicks).tickFormat(d => d).tickSize(12).tickPadding(11));
yAxis.selectAll('.tick line').attr('x2', 4).attr('x1', -12).attr('stroke-width', 2.5);
yAxis.selectAll('.tick text').attr('fill', textColor).style('font-size', '38px');
yAxis.select('.domain').attr('stroke-width', 2.5).attr('d', `M0,${low.top - 2}V${low.bottom}`);
yAxis.selectAll('.minor').data(d3.range(-11, 10).filter(d => d % 5 !== 0).map(d => d / 10)).join('line').attr('class', 'minor')
  .attr('y1', d => specY(d)).attr('y2', d => specY(d)).attr('x1', -8).attr('x2', 0).attr('stroke', '#000').attr('stroke-width', 2);

svg.append('text').attr('x', 1209).attr('y', 1828).attr('text-anchor', 'middle').attr('fill', textColor)
  .style('font-size', '40px').style('font-style', 'italic').text('Rest wavelength [A]');

// clipped remains of the y axis label at the far left
svg.append('g').selectAll('rect').data([1427, 1499, 1520, 1562, 1604, 1628, 1700]).join('rect')
  .attr('x', 16).attr('y', d => d).attr('width', 1.5).attr('height', 5).attr('fill', '#777');

// ---- toolbars ----
const iconGray = '#b4b8ba';
function drawBoxZoom(g, dx, dy) {
  const t = g.append('g').attr('transform', `translate(${dx},${dy})`).attr('fill', 'none').attr('stroke', iconGray);
  t.append('rect').attr('x', 2075).attr('y', 15).attr('width', 34).attr('height', 34).attr('stroke-width', 2).attr('stroke-dasharray', '3 2');
  t.append('rect').attr('x', 2088).attr('y', 10).attr('width', 24).attr('height', 28).attr('fill', '#fff').attr('stroke', 'none');
  t.append('circle').attr('cx', 2098).attr('cy', 27).attr('r', 9).attr('stroke-width', 3.5);
  t.append('line').attr('x1', 2092).attr('y1', 34).attr('x2', 2082).attr('y2', 43).attr('stroke-width', 4.5);
}
function drawReset(g, dy) {
  const t = g.append('g').attr('transform', `translate(2213,${32 + dy})`).attr('fill', 'none').attr('stroke', iconGray).attr('stroke-width', 3);
  t.append('path').attr('d', 'M-15,-2A15,15 0 0 1 14,-5');
  t.append('path').attr('d', 'M15,2A15,15 0 0 1 -14,5');
  t.append('path').attr('d', 'M8,-4L18,-4L15,4Z').attr('fill', iconGray).attr('stroke', 'none');
  t.append('path').attr('d', 'M-8,4L-18,4L-15,-4Z').attr('fill', iconGray).attr('stroke', 'none');
}
function drawLogo(g, dy) {
  const petals = ['#4aa84a', '#35a39c', '#4fa8de', '#7b3f98', '#d6246e', '#ee6a2c', '#f49b2a', '#a5c83c'];
  const t = g.append('g').attr('transform', `translate(2274,${33 + dy})`);
  const arc = d3.arc().innerRadius(9).outerRadius(20);
  petals.forEach((c, i) => {
    t.append('path').attr('fill', c)
      .attr('d', arc({ startAngle: (i - 0.5) * Math.PI / 4, endAngle: (i + 0.5) * Math.PI / 4 }));
  });
}
const tools = svg.append('g');
const lasso = tools.append('g').attr('fill', 'none').attr('stroke', iconGray).attr('stroke-width', 4.5);
lasso.append('ellipse').attr('cx', 2033).attr('cy', 28).attr('rx', 18).attr('ry', 11).attr('transform', 'rotate(-25 2033 28)');
lasso.append('path').attr('d', 'M2022,38C2030,38 2032,44 2032,50');
drawBoxZoom(tools, 0, 0);
tools.append('line').attr('x1', 2123).attr('x2', 2123).attr('y1', 24).attr('y2', 43).attr('stroke', '#d5d5d5').attr('stroke-width', 2);
tools.append('rect').attr('x', 2137).attr('y', 15).attr('width', 34).attr('height', 34).attr('fill', 'none').attr('stroke', iconGray).attr('stroke-width', 2.5);
tools.append('path').attr('d', 'M2144,15V29H2164V15').attr('fill', 'none').attr('stroke', iconGray).attr('stroke-width', 2);
tools.append('rect').attr('x', 2157).attr('y', 18).attr('width', 4).attr('height', 7).attr('fill', iconGray);
drawReset(tools, 0);
drawLogo(tools, 0);
tools.append('rect').attr('x', 2004).attr('y', 60).attr('width', 58).attr('height', 4).attr('fill', '#4fa8dc');
drawBoxZoom(tools, 59, 1201);
tools.append('line').attr('x1', 2182).attr('x2', 2182).attr('y1', 1225).attr('y2', 1244).attr('stroke', '#d5d5d5').attr('stroke-width', 2);
drawReset(tools, 1201);
drawLogo(tools, 1201);
tools.append('rect').attr('x', 2124).attr('y', 1260).attr('width', 58).attr('height', 4).attr('fill', '#4fa8dc');
</script>
</body>
</html>
